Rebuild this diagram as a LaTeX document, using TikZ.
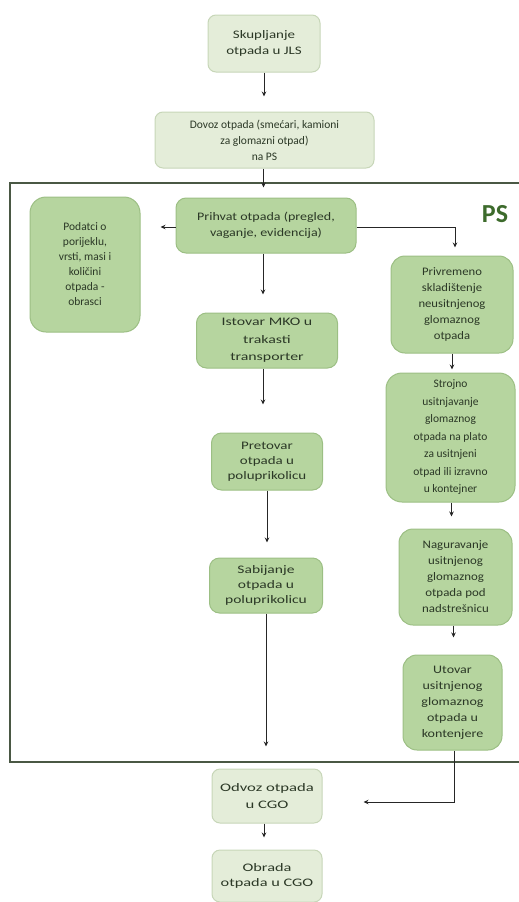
\documentclass[tikz,border=0pt]{standalone}
\usepackage{fontspec}
\setmainfont{Carlito}
\usetikzlibrary{arrows.meta,calc}
\definecolor{txt}{HTML}{2B3826}
\definecolor{paleFill}{HTML}{E4EDD9}
\definecolor{paleDraw}{HTML}{C7D6B8}
\definecolor{midFill}{HTML}{B6D59F}
\definecolor{midDraw}{HTML}{9CBF84}
\definecolor{frameCol}{HTML}{4A5844}
\definecolor{psCol}{HTML}{3D6B2C}
\tikzset{
  base/.style={align=center, text=txt, font=\fontsize{11.5}{16}\selectfont, inner sep=2pt, line width=1pt},
  pale/.style={base, fill=paleFill, draw=paleDraw, rounded corners=8pt},
  mid/.style={base, fill=midFill, draw=midDraw, rounded corners=10pt},
  hx/.style={execute at begin node={\fontspec{Carlito}[FakeStretch=#1]}},
  arr/.style={draw=black!85, line width=0.9pt, -{Stealth[length=5pt,width=4.5pt]}},
  frm/.style={draw=frameCol, line width=2.5pt}
}
\begin{document}
\begin{tikzpicture}[x=1pt,y=-1pt]
\useasboundingbox (0,0) rectangle (519,902);
% frame
\draw[frm] (530,183) -- (10,183) -- (10,762) -- (530,762);
\node[font=\bfseries\fontsize{26}{28}\selectfont, text=psCol, anchor=center] (ps) at (495,214) {PS};

% outer boxes
\node[pale, hx=1.3, minimum width=112pt, minimum height=57pt] (b1) at (264,43.5) {Skupljanje\\otpada u JLS};
\node[pale, minimum width=219pt, minimum height=56pt] (b2) at (264.5,140) {Dovoz otpada (smećari, kamioni\\za glomazni otpad)\\na PS};
\node[pale, hx=1.45, font=\fontsize{11.5}{17}\selectfont, minimum width=110pt, minimum height=54pt] (odvoz) at (267,796) {Odvoz otpada\\u CGO};
\node[pale, hx=1.42, font=\fontsize{11.5}{15.5}\selectfont, minimum width=110pt, minimum height=52pt] (obrada) at (267,876) {Obrada\\otpada u CGO};

% inner boxes
\node[mid, hx=1.22, minimum width=180pt, minimum height=55pt] (prihvat) at (266,225.5) {Prihvat otpada (pregled,\\vaganje, evidencija)};
\node[mid, rounded corners=16pt, minimum width=110pt, minimum height=135pt, font=\fontsize{11.5}{15}\selectfont] (podatci) at (85,264.5) {Podatci o\\porijeklu,\\vrsti, masi i\\količini\\otpada -\\obrasci};
\node[mid, hx=1.1, rounded corners=14pt, minimum width=122pt, minimum height=97pt] (privremeno) at (452,304.5) {Privremeno\\skladištenje\\neusitnjenog\\glomaznog\\otpada};
\node[mid, hx=1.38, font=\fontsize{11.5}{17.5}\selectfont, minimum width=141pt, minimum height=55pt] (istovar) at (267,340.5) {Istovar MKO u\\trakasti\\transporter};
\node[mid, hx=1.3, font=\fontsize{11.5}{15}\selectfont, minimum width=111pt, minimum height=57pt] (pretovar) at (267,461.5) {Pretovar\\otpada u\\poluprikolicu};
\node[mid, hx=1.35, font=\fontsize{11.5}{15}\selectfont, minimum width=113pt, minimum height=55pt] (sabijanje) at (266,585.5) {Sabijanje\\otpada u\\poluprikolicu};
\node[mid, rounded corners=16pt, minimum width=129pt, minimum height=129pt, font=\fontsize{11.5}{17.5}\selectfont] (strojno) at (450.5,437.5) {Strojno\\usitnjavanje\\glomaznog\\otpada na plato\\za usitnjeni\\otpad ili izravno\\u kontejner};
\node[mid, hx=1.12, rounded corners=14pt, minimum width=113pt, minimum height=96pt] (naguravanje) at (455.5,577) {Naguravanje\\usitnjenog\\glomaznog\\otpada pod\\nadstrešnicu};
\node[mid, hx=1.22, rounded corners=14pt, minimum width=99pt, minimum height=95pt] (utovar) at (452.5,702.5) {Utovar\\usitnjenog\\glomaznog\\otpada u\\kontenjere};

% connectors
\draw[arr, shorten >=15pt] (b1.south) -- (b1.south |- b2.north);
\draw[arr, shorten >=10pt] ([xshift=-1pt]b2.south) -- ([xshift=-1pt]b2.south |- prihvat.north);
\draw[arr, shorten >=20pt] ([yshift=-1.5pt]prihvat.west) -- ([yshift=-1.5pt]prihvat.west -| podatci.east);
\draw[arr, shorten >=8pt] ([yshift=-1.5pt]prihvat.east) -| ([xshift=3pt]privremeno.north);
\draw[arr, shorten >=18pt] ([xshift=-3pt]prihvat.south) -- ([xshift=-3pt]prihvat.south |- istovar.north);
\draw[arr, shorten >=28pt] ([xshift=-4pt]istovar.south) -- ([xshift=-4pt]istovar.south |- pretovar.north);
\draw[arr, shorten >=15pt] (pretovar.south) -- (pretovar.south |- sabijanje.north);
\draw[arr, shorten >=22pt] (sabijanje.south) -- (sabijanje.south |- odvoz.north);
\draw[arr, shorten >=12pt] ([xshift=-3pt]odvoz.south) -- ([xshift=-3pt]odvoz.south |- obrada.north);
\draw[arr, shorten >=3pt] (privremeno.south) -- (privremeno.south |- strojno.north);
\draw[arr, shorten >=12pt] ([xshift=1pt]strojno.south) -- ([xshift=1pt]strojno.south |- naguravanje.north);
\draw[arr, shorten >=17pt] ([xshift=-2pt]naguravanje.south) -- ([xshift=-2pt]naguravanje.south |- utovar.north);
\draw[arr, shorten >=41pt] ([xshift=1.5pt]utovar.south) |- ([yshift=-6pt]odvoz.east);
\end{tikzpicture}
\end{document}
